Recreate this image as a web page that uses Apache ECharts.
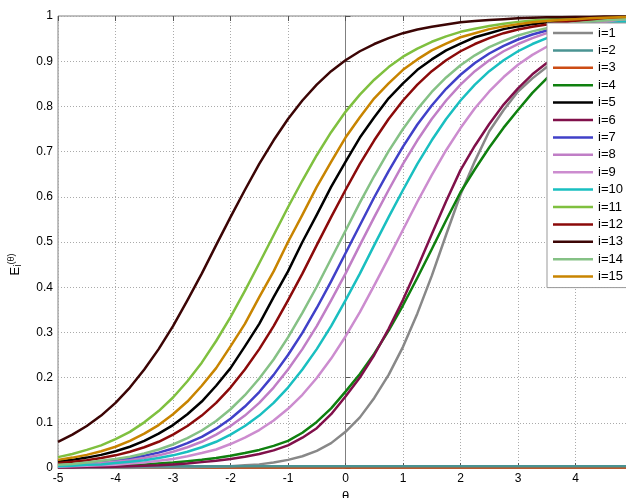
<!DOCTYPE html>
<html>
<head>
<meta charset="utf-8">
<script src="https://cdn.jsdelivr.net/npm/echarts@6/dist/echarts.min.js"></script>
<style>
  html, body { margin: 0; padding: 0; background: #fff; }
  #chart { width: 626px; height: 498px; }
</style>
</head>
<body>
<div id="chart"></div>
<script>
// theta sample points
const theta = [-5, -4.75, -4.5, -4.25, -4, -3.75, -3.5, -3.25, -3, -2.75, -2.5, -2.25, -2, -1.75, -1.5, -1.25,
  -1, -0.75, -0.5, -0.25, 0, 0.25, 0.5, 0.75, 1, 1.25, 1.5, 1.75, 2, 2.25, 2.5, 2.75, 3, 3.25, 3.5, 3.75,
  4, 4.25, 4.5, 4.75, 5];
// the two flat curves only need their ends
const thetaEnds = [-5, 5];

// curve values, one array per item
const i1 = [0.000, 0.000, 0.000, 0.000, 0.000, 0.000, 0.001, 0.001, 0.001, 0.001, 0.002, 0.003, 0.004, 0.006, 0.008, 0.012,
  0.018, 0.026, 0.038, 0.055, 0.080, 0.112, 0.155, 0.206, 0.268, 0.342, 0.425, 0.516, 0.605, 0.679, 0.745, 0.792,
  0.833, 0.862, 0.887, 0.908, 0.925, 0.940, 0.952, 0.962, 0.970];
const i2 = [0.004, 0.004];
const i3 = [0.001, 0.001];
const i4 = [0.003, 0.003, 0.004, 0.004, 0.005, 0.006, 0.008, 0.010, 0.012, 0.015, 0.018, 0.022, 0.027, 0.033, 0.040, 0.049,
  0.060, 0.078, 0.102, 0.132, 0.169, 0.208, 0.253, 0.304, 0.360, 0.421, 0.484, 0.548, 0.610, 0.661, 0.709, 0.753,
  0.792, 0.830, 0.862, 0.885, 0.905, 0.921, 0.935, 0.948, 0.958];
const i5 = [0.014, 0.018, 0.023, 0.029, 0.037, 0.047, 0.060, 0.076, 0.095, 0.119, 0.147, 0.182, 0.221, 0.269, 0.319, 0.378,
  0.435, 0.500, 0.560, 0.622, 0.677, 0.731, 0.776, 0.818, 0.851, 0.881, 0.904, 0.924, 0.939, 0.953, 0.962, 0.971,
  0.977, 0.982, 0.986, 0.989, 0.991, 0.993, 0.995, 0.996, 0.997];
const i6 = [0.001, 0.001, 0.002, 0.002, 0.003, 0.004, 0.005, 0.006, 0.008, 0.010, 0.013, 0.016, 0.020, 0.025, 0.031, 0.039,
  0.050, 0.067, 0.088, 0.119, 0.158, 0.200, 0.250, 0.308, 0.372, 0.443, 0.517, 0.590, 0.659, 0.713, 0.761, 0.804,
  0.840, 0.871, 0.896, 0.916, 0.932, 0.945, 0.955, 0.963, 0.970];
const i7 = [0.006, 0.008, 0.010, 0.013, 0.016, 0.021, 0.027, 0.034, 0.043, 0.055, 0.069, 0.087, 0.109, 0.136, 0.168, 0.206,
  0.250, 0.299, 0.354, 0.413, 0.475, 0.537, 0.599, 0.657, 0.711, 0.760, 0.802, 0.839, 0.870, 0.896, 0.917, 0.934,
  0.948, 0.959, 0.968, 0.975, 0.980, 0.984, 0.988, 0.991, 0.993];
const i8 = [0.005, 0.007, 0.008, 0.011, 0.014, 0.017, 0.022, 0.028, 0.036, 0.046, 0.058, 0.074, 0.093, 0.116, 0.144, 0.178,
  0.218, 0.263, 0.314, 0.371, 0.430, 0.493, 0.555, 0.615, 0.673, 0.725, 0.772, 0.813, 0.848, 0.878, 0.902, 0.922,
  0.938, 0.951, 0.962, 0.970, 0.976, 0.981, 0.986, 0.989, 0.991];
const i9 = [0.003, 0.004, 0.005, 0.006, 0.007, 0.010, 0.012, 0.016, 0.020, 0.026, 0.033, 0.041, 0.053, 0.067, 0.084, 0.105,
  0.131, 0.162, 0.199, 0.242, 0.291, 0.345, 0.404, 0.465, 0.527, 0.589, 0.648, 0.703, 0.752, 0.796, 0.833, 0.865,
  0.892, 0.914, 0.932, 0.946, 0.957, 0.966, 0.974, 0.979, 0.984];
const i10 = [0.004, 0.005, 0.007, 0.008, 0.011, 0.014, 0.017, 0.022, 0.028, 0.036, 0.046, 0.058, 0.074, 0.093, 0.116, 0.144,
  0.178, 0.218, 0.263, 0.314, 0.371, 0.430, 0.493, 0.555, 0.615, 0.673, 0.725, 0.772, 0.813, 0.848, 0.878, 0.902,
  0.922, 0.938, 0.951, 0.962, 0.970, 0.976, 0.981, 0.986, 0.989];
const i11 = [0.024, 0.031, 0.040, 0.050, 0.064, 0.080, 0.101, 0.126, 0.156, 0.192, 0.233, 0.281, 0.334, 0.392, 0.453, 0.515,
  0.577, 0.636, 0.692, 0.743, 0.788, 0.826, 0.859, 0.887, 0.910, 0.928, 0.943, 0.955, 0.965, 0.972, 0.978, 0.983,
  0.987, 0.990, 0.992, 0.994, 0.995, 0.996, 0.997, 0.998, 0.998];
const i12 = [0.011, 0.014, 0.017, 0.022, 0.028, 0.036, 0.046, 0.058, 0.074, 0.093, 0.116, 0.144, 0.178, 0.218, 0.263, 0.314,
  0.371, 0.430, 0.493, 0.555, 0.615, 0.673, 0.725, 0.772, 0.813, 0.848, 0.878, 0.902, 0.922, 0.938, 0.951, 0.962,
  0.970, 0.976, 0.981, 0.986, 0.989, 0.991, 0.993, 0.995, 0.996];
const i13 = [0.058, 0.074, 0.093, 0.116, 0.144, 0.178, 0.218, 0.263, 0.314, 0.371, 0.430, 0.493, 0.555, 0.615, 0.673, 0.725,
  0.772, 0.813, 0.848, 0.878, 0.902, 0.922, 0.938, 0.951, 0.962, 0.970, 0.976, 0.981, 0.986, 0.989, 0.991, 0.993,
  0.995, 0.996, 0.997, 0.997, 0.998, 0.998, 0.999, 0.999, 0.999];
const i14 = [0.007, 0.009, 0.012, 0.016, 0.020, 0.025, 0.032, 0.041, 0.052, 0.066, 0.083, 0.104, 0.130, 0.161, 0.198, 0.240,
  0.289, 0.343, 0.401, 0.463, 0.525, 0.587, 0.646, 0.701, 0.750, 0.794, 0.832, 0.864, 0.891, 0.913, 0.931, 0.945,
  0.957, 0.966, 0.973, 0.979, 0.984, 0.987, 0.990, 0.992, 0.994];
const i15 = [0.018, 0.023, 0.029, 0.037, 0.047, 0.060, 0.076, 0.095, 0.119, 0.147, 0.182, 0.221, 0.269, 0.319, 0.378, 0.435,
  0.500, 0.560, 0.622, 0.677, 0.731, 0.776, 0.818, 0.851, 0.881, 0.904, 0.924, 0.939, 0.953, 0.962, 0.971, 0.977,
  0.982, 0.986, 0.989, 0.991, 0.993, 0.995, 0.996, 0.997, 0.998];

const names = ['i=1', 'i=2', 'i=3', 'i=4', 'i=5', 'i=6', 'i=7', 'i=8', 'i=9', 'i=10', 'i=11', 'i=12', 'i=13', 'i=14', 'i=15'];
const curves = [i1, i2, i3, i4, i5, i6, i7, i8, i9, i10, i11, i12, i13, i14, i15];
const colors = ['#888888', '#4a9392', '#cc4c14', '#0f800f', '#000000', '#80104a', '#4040c8', '#c07ec6',
  '#cc8ccf', '#19bfc0', '#7fc03f', '#8b0a0a', '#3c0505', '#85c185', '#c88400'];

const font = 'Liberation Sans, Arial, sans-serif';

const chart = echarts.init(document.getElementById('chart'));

const series = curves.map((c, k) => {
  const xs = c.length === theta.length ? theta : thetaEnds;
  return {
    name: names[k],
    type: 'line',
    smooth: false,
    symbol: 'none',
    z: k === 2 ? 1 : 2,
    lineStyle: {width: 2.5, color: colors[k], join: 'round'},
    itemStyle: {color: colors[k]},
    data: xs.map((t, j) => [t, c[j]])
  };
});

chart.setOption({
  animation: false,
  grid: {
    left: 58, top: 16, right: -7, bottom: 30,
    containLabel: false, outerBoundsMode: 'none',
    show: true, borderColor: '#808080', borderWidth: 1
  },
  legend: {
    orient: 'vertical',
    left: 547,
    top: 23,
    padding: [2, 30, 3, 6],
    itemGap: 1.4,
    itemWidth: 40,
    itemHeight: 2.5,
    icon: 'rect',
    backgroundColor: '#fff',
    borderColor: '#999',
    borderWidth: 1,
    borderRadius: 0,
    textStyle: {fontFamily: font, fontSize: 13, lineHeight: 16, color: '#000'},
    itemTextGap: 4,
    data: names
  },
  xAxis: [{
    type: 'value',
    min: -5, max: 5, interval: 1,
    name: 'θ',
    nameLocation: 'middle',
    nameGap: 22,
    nameTextStyle: {fontFamily: font, fontSize: 13, color: '#000'},
    axisLine: {show: true, lineStyle: {color: '#808080'}},
    axisTick: {inside: true, length: 5, lineStyle: {color: '#555'}},
    axisLabel: {fontFamily: font, fontSize: 12, color: '#000', margin: 5},
    splitLine: {show: true, lineStyle: {color: '#aaa', type: [1, 2]}}
  }, {
    type: 'value',
    position: 'top',
    min: -5, max: 5, interval: 1,
    axisLine: {show: false},
    axisTick: {inside: true, length: 5, lineStyle: {color: '#555'}},
    axisLabel: {show: false},
    splitLine: {show: false}
  }],
  yAxis: {
    type: 'value',
    min: 0, max: 1, interval: 0.1,
    name: '{e|E}{sub|i}{sup|(θ)}',
    nameLocation: 'middle',
    nameGap: 35,
    nameTextStyle: {
      fontFamily: font, color: '#000', padding: [0, 45, 0, 0],
      rich: {
        e: {fontFamily: font, fontSize: 13, color: '#000'},
        sub: {fontFamily: font, fontSize: 10, color: '#000', verticalAlign: 'bottom', padding: [6, 0, 0, 0]},
        sup: {fontFamily: font, fontSize: 9, color: '#000', verticalAlign: 'top', padding: [0, 0, 5, 0]}
      }
    },
    axisLine: {show: true, lineStyle: {color: '#808080'}},
    axisTick: {inside: true, length: 5, lineStyle: {color: '#555'}},
    axisLabel: {fontFamily: font, fontSize: 12, color: '#000', margin: 5},
    splitLine: {show: true, lineStyle: {color: '#aaa', type: [1, 2]}}
  },
  series: series
});
</script>
</body>
</html>
